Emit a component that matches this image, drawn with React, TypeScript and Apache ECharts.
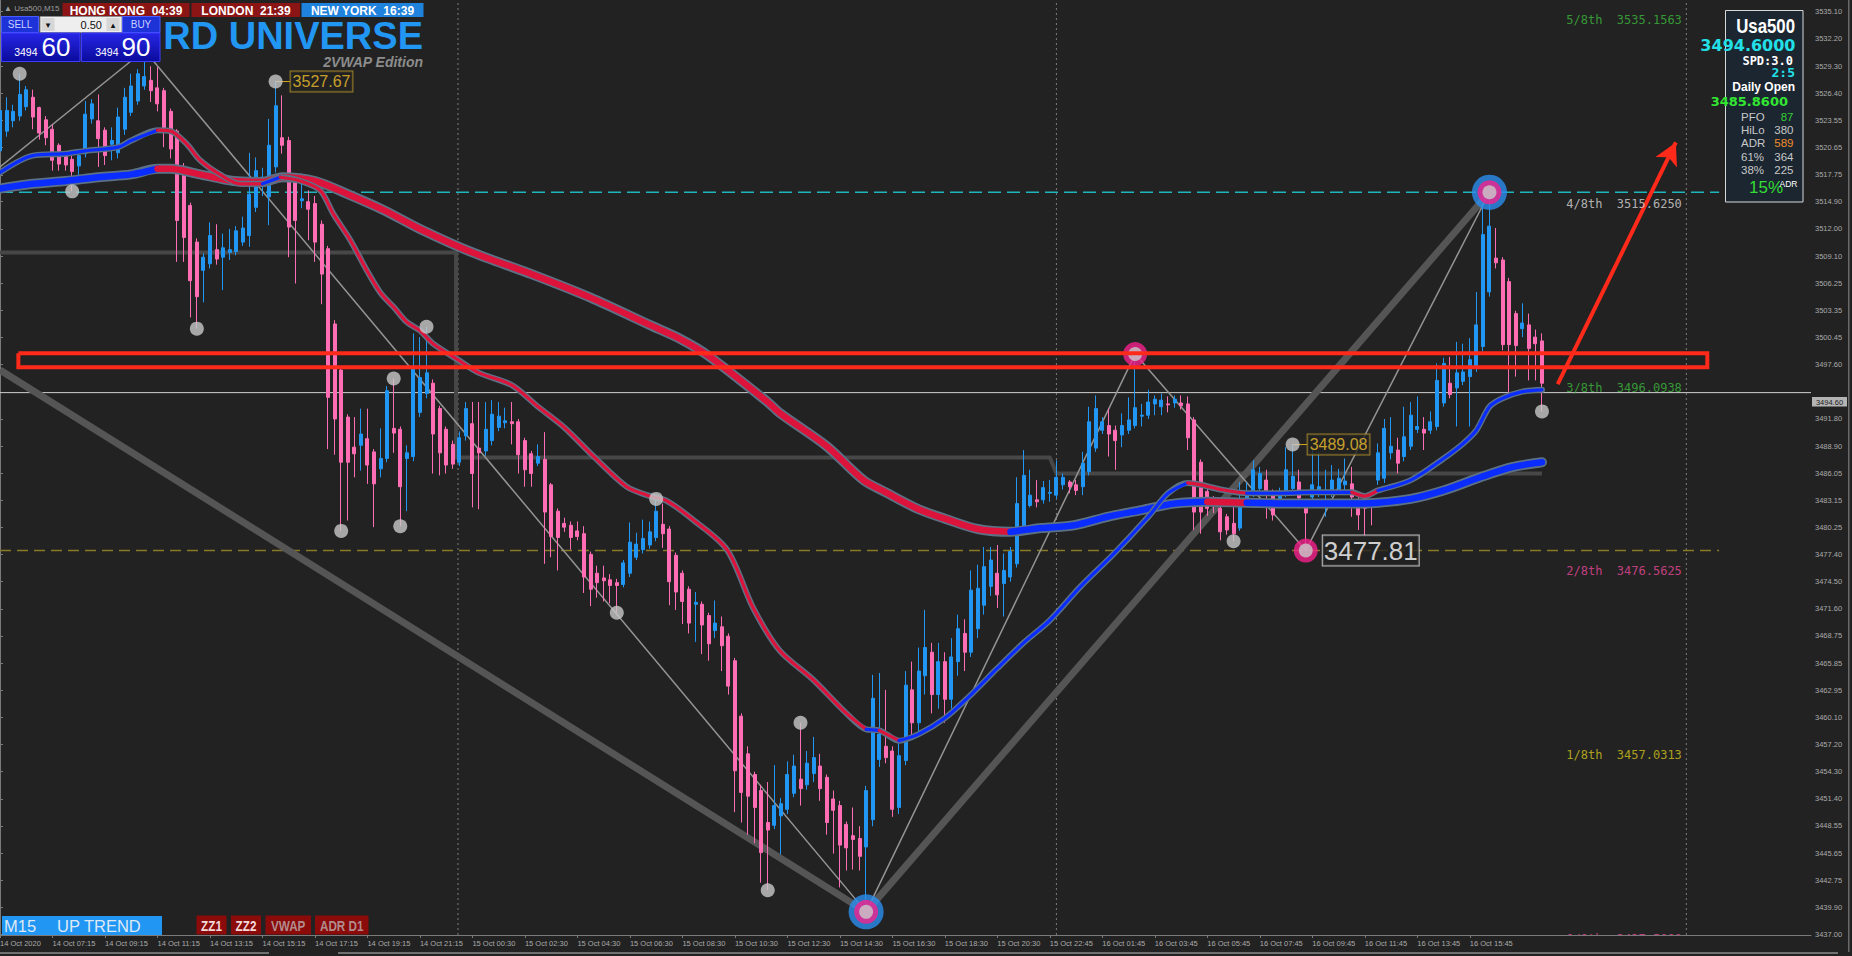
import React, { useEffect, useRef } from "react";
import * as echarts from "echarts";

// ---------------- data ----------------
const timeLabels: string[] = [
  "14 Oct 2020", "14 Oct 07:15", "14 Oct 09:15", "14 Oct 11:15", "14 Oct 13:15", "14 Oct 15:15",
  "14 Oct 17:15", "14 Oct 19:15", "14 Oct 21:15", "15 Oct 00:30", "15 Oct 02:30", "15 Oct 04:30",
  "15 Oct 06:30", "15 Oct 08:30", "15 Oct 10:30", "15 Oct 12:30", "15 Oct 14:30", "15 Oct 16:30",
  "15 Oct 18:30", "15 Oct 20:30", "15 Oct 22:45", "16 Oct 01:45", "16 Oct 03:45", "16 Oct 05:45",
  "16 Oct 07:45", "16 Oct 09:45", "16 Oct 11:45", "16 Oct 13:45", "16 Oct 15:45", "16 Oct 17:45",
];

const priceTicks: number[] = [
  3437.0, 3439.9, 3442.75, 3445.65, 3448.55, 3451.4, 3454.3, 3457.2, 3460.1, 3462.95, 3465.85,
  3468.75, 3471.6, 3474.5, 3477.4, 3480.25, 3483.15, 3486.05, 3488.9, 3491.8, 3497.6, 3500.45,
  3503.35, 3506.25, 3509.1, 3512.0, 3514.9, 3517.75, 3520.65, 3523.55, 3526.4, 3529.3, 3532.2, 3535.1,
];

// [open, close, low, high] for each M15 bar
const candles: number[][] = [
  [3520.3, 3524.6, 3519.5, 3525.5], [3522.4, 3524.6, 3521.8, 3526.0], [3523.5, 3524.5, 3522.8, 3525.2],
  [3524.0, 3526.3, 3523.5, 3528.5], [3525.0, 3526.8, 3524.6, 3527.2], [3526.0, 3523.9, 3522.6, 3526.8],
  [3524.9, 3522.2, 3521.5, 3525.0], [3523.6, 3521.7, 3520.9, 3524.0], [3522.6, 3519.3, 3518.2, 3523.1],
  [3520.9, 3518.9, 3518.2, 3521.1], [3519.8, 3518.8, 3518.2, 3520.2], [3519.4, 3518.1, 3516.0, 3519.8],
  [3518.7, 3519.8, 3517.5, 3520.2], [3520.0, 3524.2, 3519.6, 3525.6], [3523.7, 3525.3, 3523.2, 3525.8],
  [3523.5, 3521.6, 3518.6, 3526.3], [3522.5, 3519.8, 3518.8, 3522.8], [3521.0, 3521.4, 3519.3, 3522.8],
  [3520.1, 3523.9, 3519.5, 3524.9], [3522.6, 3526.0, 3522.0, 3527.0], [3524.4, 3527.2, 3524.0, 3528.5],
  [3525.6, 3528.5, 3525.2, 3529.0], [3527.2, 3528.2, 3526.8, 3531.0], [3527.8, 3526.7, 3525.5, 3529.3],
  [3527.0, 3525.3, 3524.5, 3529.2], [3526.7, 3522.4, 3520.7, 3527.0], [3524.5, 3520.5, 3519.5, 3524.8],
  [3522.4, 3512.9, 3508.5, 3522.6], [3518.6, 3511.1, 3508.5, 3519.0], [3514.5, 3506.5, 3502.6, 3514.8],
  [3510.6, 3504.8, 3501.4, 3511.0], [3507.6, 3509.0, 3504.2, 3509.4], [3508.3, 3511.3, 3507.8, 3512.7],
  [3509.8, 3508.8, 3508.2, 3512.5], [3509.0, 3510.0, 3505.5, 3511.5], [3509.5, 3509.8, 3508.7, 3512.0],
  [3509.6, 3511.8, 3509.2, 3512.3], [3510.6, 3512.1, 3510.2, 3513.3], [3511.3, 3515.7, 3510.1, 3520.1],
  [3514.3, 3518.2, 3513.8, 3519.6], [3517.0, 3517.5, 3515.5, 3518.5], [3515.4, 3520.9, 3512.4, 3523.7],
  [3518.6, 3525.1, 3518.0, 3527.67], [3521.7, 3520.9, 3520.0, 3526.2], [3521.4, 3512.2, 3509.0, 3521.8],
  [3517.5, 3512.9, 3506.2, 3517.8], [3515.0, 3515.2, 3514.2, 3517.9], [3514.9, 3514.1, 3510.8, 3516.1],
  [3514.7, 3510.6, 3508.5, 3515.5], [3512.5, 3507.2, 3504.0, 3512.9], [3509.9, 3494.1, 3488.6, 3510.2],
  [3501.9, 3491.8, 3488.0, 3502.3], [3497.0, 3487.2, 3479.9, 3497.3], [3492.0, 3487.2, 3481.0, 3492.3],
  [3488.8, 3488.1, 3485.6, 3492.0], [3489.0, 3490.2, 3486.3, 3492.9], [3489.7, 3486.9, 3484.9, 3492.9],
  [3488.3, 3484.9, 3480.3, 3488.6], [3486.5, 3487.6, 3485.6, 3490.8], [3487.6, 3494.8, 3487.2, 3495.3],
  [3490.8, 3490.3, 3488.2, 3496.1], [3490.7, 3484.6, 3480.4, 3491.0], [3487.6, 3488.2, 3482.0, 3489.0],
  [3487.8, 3497.1, 3487.3, 3500.9], [3492.5, 3496.2, 3492.0, 3500.5], [3494.5, 3496.7, 3494.0, 3501.6],
  [3495.6, 3490.2, 3486.0, 3496.0], [3492.9, 3488.2, 3485.8, 3493.2], [3490.7, 3486.9, 3486.0, 3491.0],
  [3489.1, 3487.0, 3486.5, 3489.5], [3487.2, 3489.8, 3486.8, 3490.5], [3490.0, 3492.9, 3489.5, 3493.6],
  [3491.3, 3486.0, 3482.4, 3493.6], [3488.7, 3488.2, 3482.2, 3493.6], [3488.4, 3490.7, 3487.9, 3493.6],
  [3489.5, 3492.3, 3489.0, 3493.8], [3490.9, 3492.1, 3490.5, 3493.6], [3491.4, 3491.6, 3490.8, 3493.0],
  [3491.5, 3491.3, 3489.1, 3493.6], [3491.5, 3488.0, 3486.0, 3491.8], [3489.5, 3486.4, 3484.6, 3489.8],
  [3488.1, 3486.0, 3484.6, 3488.4], [3487.1, 3487.8, 3486.8, 3489.1], [3487.5, 3481.9, 3476.4, 3490.4],
  [3484.8, 3479.3, 3477.1, 3485.0], [3482.0, 3479.2, 3475.7, 3482.3], [3480.7, 3480.3, 3479.8, 3481.3],
  [3480.5, 3479.2, 3477.9, 3480.9], [3479.9, 3479.3, 3478.9, 3480.9], [3479.6, 3475.0, 3473.3, 3480.4],
  [3477.4, 3473.7, 3471.9, 3477.7], [3475.4, 3474.4, 3472.8, 3476.2], [3474.9, 3474.6, 3472.4, 3476.2],
  [3474.7, 3474.1, 3472.2, 3475.3], [3474.4, 3474.1, 3471.2, 3474.8], [3474.2, 3476.5, 3473.9, 3476.8],
  [3475.4, 3478.7, 3475.0, 3480.8], [3477.1, 3478.5, 3476.8, 3479.7], [3477.9, 3479.1, 3477.5, 3481.1],
  [3478.4, 3479.8, 3478.0, 3480.9], [3479.2, 3482.0, 3478.8, 3483.3], [3480.6, 3479.6, 3478.1, 3482.8],
  [3480.1, 3474.5, 3472.0, 3480.4], [3477.3, 3473.4, 3471.5, 3477.6], [3475.4, 3472.4, 3470.0, 3475.7],
  [3473.7, 3470.1, 3469.0, 3474.0], [3472.1, 3472.3, 3468.1, 3473.4], [3472.1, 3469.9, 3466.8, 3472.4],
  [3470.9, 3467.9, 3466.1, 3471.2], [3469.3, 3470.1, 3468.5, 3472.5], [3469.7, 3467.7, 3465.0, 3470.8],
  [3468.7, 3463.4, 3462.5, 3469.0], [3466.1, 3454.4, 3450.0, 3466.4], [3460.2, 3452.1, 3448.9, 3460.5],
  [3456.2, 3451.7, 3447.6, 3457.0], [3454.0, 3450.5, 3446.7, 3454.3], [3452.3, 3445.7, 3442.5, 3452.9],
  [3448.9, 3448.1, 3441.7, 3453.2], [3448.6, 3450.7, 3448.2, 3455.0], [3449.6, 3450.9, 3445.5, 3451.5],
  [3450.3, 3454.0, 3449.8, 3455.4], [3452.0, 3454.9, 3451.6, 3456.1], [3453.5, 3452.5, 3450.7, 3459.5],
  [3452.9, 3455.2, 3452.4, 3456.5], [3454.1, 3455.8, 3453.2, 3458.0], [3454.9, 3452.5, 3451.2, 3456.2],
  [3453.7, 3448.9, 3447.6, 3454.0], [3451.4, 3450.2, 3445.6, 3452.3], [3450.7, 3446.5, 3442.0, 3451.2],
  [3448.7, 3446.2, 3443.8, 3449.0], [3447.5, 3447.1, 3443.9, 3450.5], [3447.2, 3445.3, 3443.8, 3448.5],
  [3446.3, 3452.3, 3439.4, 3452.8], [3449.2, 3462.1, 3448.5, 3464.6], [3455.6, 3458.3, 3454.8, 3464.8],
  [3457.0, 3455.8, 3455.2, 3463.0], [3456.5, 3450.3, 3449.5, 3457.0], [3450.5, 3456.0, 3449.8, 3457.5],
  [3455.5, 3463.5, 3455.0, 3465.0], [3463.0, 3459.5, 3458.0, 3466.0], [3459.5, 3465.0, 3458.5, 3467.5],
  [3464.5, 3467.5, 3462.5, 3471.5], [3467.0, 3462.5, 3460.5, 3468.0], [3462.5, 3466.0, 3461.0, 3468.0],
  [3466.0, 3462.0, 3459.5, 3467.0], [3462.0, 3466.5, 3461.0, 3468.5], [3466.0, 3469.5, 3464.5, 3471.0],
  [3469.0, 3467.0, 3465.0, 3470.5], [3467.0, 3473.6, 3466.5, 3475.7], [3469.5, 3473.8, 3468.5, 3476.3],
  [3472.0, 3476.1, 3471.0, 3478.2], [3474.0, 3476.8, 3473.0, 3478.2], [3475.4, 3473.1, 3471.7, 3478.4],
  [3474.3, 3475.7, 3470.8, 3477.5], [3475.0, 3477.7, 3474.5, 3478.2], [3476.4, 3482.8, 3476.0, 3485.6],
  [3480.0, 3485.8, 3479.5, 3488.5], [3482.6, 3483.7, 3482.4, 3486.4], [3483.2, 3483.0, 3482.4, 3485.3],
  [3483.2, 3484.5, 3482.8, 3485.2], [3483.9, 3484.0, 3483.0, 3485.3], [3483.7, 3485.6, 3483.3, 3487.4],
  [3484.8, 3485.6, 3484.3, 3486.0], [3485.1, 3484.6, 3483.9, 3485.3], [3484.8, 3484.2, 3483.7, 3485.3],
  [3484.6, 3487.1, 3483.7, 3488.3], [3486.2, 3491.5, 3485.8, 3493.1], [3488.7, 3492.9, 3488.3, 3494.3],
  [3490.6, 3491.5, 3490.2, 3492.0], [3491.1, 3490.2, 3487.8, 3492.9], [3490.6, 3489.5, 3486.4, 3491.1],
  [3490.1, 3491.1, 3488.8, 3492.4], [3490.6, 3491.7, 3490.2, 3494.1], [3491.1, 3493.0, 3490.8, 3498.7],
  [3492.1, 3492.2, 3491.0, 3493.4], [3492.2, 3493.6, 3491.8, 3494.9], [3493.4, 3493.9, 3492.2, 3494.3],
  [3493.1, 3493.8, 3492.2, 3494.5], [3493.4, 3493.3, 3492.5, 3494.2], [3493.5, 3493.9, 3493.0, 3494.3],
  [3493.5, 3493.2, 3492.8, 3494.3], [3493.4, 3489.8, 3488.5, 3494.2], [3491.7, 3481.9, 3480.0, 3492.0],
  [3487.2, 3481.9, 3479.6, 3487.5], [3484.1, 3482.3, 3481.5, 3484.4], [3483.2, 3482.6, 3481.8, 3483.6],
  [3482.3, 3479.8, 3478.9, 3482.6], [3481.4, 3480.0, 3479.5, 3481.7], [3480.7, 3479.6, 3478.8, 3483.2],
  [3480.2, 3483.0, 3479.9, 3485.1], [3483.1, 3483.9, 3482.6, 3485.1], [3483.9, 3486.4, 3483.5, 3487.4],
  [3484.4, 3486.0, 3484.0, 3486.7], [3485.3, 3484.2, 3481.2, 3486.4], [3484.0, 3481.6, 3481.0, 3484.3],
  [3483.2, 3484.0, 3482.8, 3484.5], [3483.9, 3486.4, 3483.5, 3488.8], [3484.4, 3485.7, 3484.0, 3489.08],
  [3485.1, 3483.4, 3482.3, 3486.4], [3482.5, 3481.8, 3477.81, 3483.0], [3483.5, 3484.8, 3483.0, 3488.5],
  [3484.1, 3484.6, 3483.5, 3488.3], [3483.9, 3484.1, 3481.4, 3486.4], [3483.9, 3485.3, 3483.5, 3486.9],
  [3484.3, 3485.5, 3483.9, 3486.5], [3484.8, 3485.2, 3483.7, 3487.6], [3484.9, 3483.5, 3481.4, 3486.7],
  [3482.5, 3481.6, 3480.0, 3483.5], [3483.4, 3482.3, 3479.3, 3483.5], [3482.9, 3482.6, 3480.5, 3483.2],
  [3485.3, 3488.2, 3484.8, 3489.2], [3485.5, 3490.8, 3485.0, 3491.8], [3488.2, 3488.9, 3487.5, 3492.0],
  [3488.5, 3487.1, 3486.0, 3489.8], [3487.8, 3489.9, 3487.3, 3493.1], [3488.9, 3492.2, 3488.5, 3493.6],
  [3490.7, 3491.0, 3490.3, 3494.2], [3490.7, 3490.3, 3488.5, 3492.0], [3490.6, 3491.5, 3490.2, 3492.6],
  [3491.0, 3495.9, 3490.6, 3497.7], [3493.5, 3497.7, 3493.1, 3498.3], [3495.6, 3494.4, 3494.0, 3498.4],
  [3495.1, 3496.7, 3491.0, 3500.0], [3495.8, 3496.8, 3495.4, 3499.8], [3496.3, 3498.1, 3491.0, 3500.4],
  [3497.2, 3501.8, 3496.8, 3505.3], [3499.5, 3511.4, 3499.0, 3514.3], [3505.3, 3512.3, 3504.8, 3515.9],
  [3508.9, 3508.4, 3507.8, 3512.1], [3508.7, 3499.7, 3499.1, 3509.0], [3506.4, 3499.7, 3494.0, 3506.8],
  [3503.0, 3499.6, 3496.3, 3503.3], [3501.4, 3502.0, 3500.5, 3504.1], [3501.8, 3499.3, 3495.9, 3503.0],
  [3500.5, 3499.8, 3495.9, 3501.3], [3500.1, 3495.6, 3492.6, 3500.9],
];

// moving averages: [bar, value]
const fastMA: number[][] = [
  [0, 3518.0], [5, 3519.8], [10, 3520.0], [13, 3520.3], [18, 3520.7], [20, 3521.4], [24, 3522.5],
  [26, 3522.4], [28.5, 3521.0], [30.5, 3519.3], [33.5, 3517.8], [36.6, 3516.8], [40, 3516.8],
  [42.7, 3517.5], [45.8, 3517.1], [48.8, 3516.1], [50.8, 3513.6], [53.4, 3510.8], [55.9, 3507.6],
  [58, 3505.2], [60, 3503.7], [62, 3502.1], [64, 3501.2], [66, 3499.8], [70, 3498.0], [73, 3496.7],
  [78, 3495.4], [82, 3493.1], [86, 3490.9], [90.5, 3487.8], [95.5, 3484.6], [98.6, 3483.7],
  [101.6, 3483.1], [105.6, 3481.1], [110.8, 3477.9], [114.8, 3471.7], [118.8, 3467.2], [123.9, 3464.1],
  [129, 3460.5], [132, 3458.8], [134, 3458.7], [137, 3457.6], [140, 3458.3], [144, 3460.0],
  [148, 3462.5], [152, 3465.3], [156, 3468.0], [160, 3470.4], [164.7, 3474.0], [169.8, 3477.5],
  [175, 3481.4], [178, 3483.9], [181, 3485.0], [183, 3484.8], [186, 3484.3], [190, 3483.9],
  [195, 3483.9], [200, 3484.0], [206, 3484.0], [208, 3483.6], [210, 3484.2], [215, 3485.3],
  [220, 3487.6], [223, 3489.2], [225, 3490.6], [227, 3493.1], [229, 3494.0], [232, 3494.7], [235, 3494.9],
];
const slowMA: number[][] = [
  [0, 3516.3], [5, 3516.8], [10, 3517.1], [15, 3517.5], [20, 3517.8], [24, 3518.4], [26, 3518.4],
  [30.5, 3517.8], [35.6, 3517.1], [40, 3517.0], [43, 3517.5], [48, 3517.1], [53, 3515.7],
  [58.5, 3514.0], [64, 3512.0], [72, 3509.5], [81, 3507.2], [90, 3504.7], [99, 3501.8],
  [103.7, 3500.3], [108, 3498.5], [117, 3493.6], [118.9, 3492.4], [126, 3488.9], [131.6, 3485.3],
  [135, 3484.0], [140, 3482.2], [144, 3481.2], [149, 3480.1], [154, 3479.8], [158.7, 3480.2],
  [163.7, 3480.5], [168.8, 3481.4], [173.9, 3482.1], [178.9, 3482.8], [184, 3483.0], [190, 3482.9],
  [198, 3482.8], [205, 3482.8], [210, 3482.9], [215, 3483.3], [220, 3484.2], [225.6, 3485.6],
  [230.6, 3486.7], [235, 3487.2],
];
// rising / falling stretches of each average: [fromBar, toBar, trend]
const fastTrend: [number, number, string][] = [
  [0, 24, "up"], [24, 40, "down"], [40, 42.7, "up"], [42.7, 132, "down"], [132, 134, "up"],
  [134, 137, "down"], [137, 181, "up"], [181, 190, "down"], [190, 206, "up"], [206, 210, "down"], [210, 235, "up"],
];
const slowTrend: [number, number, string][] = [
  [0, 24, "up"], [24, 154, "down"], [154, 184, "up"], [184, 190, "down"], [190, 235, "up"],
];

const zigzagMinor: number[][] = [[0, 3518.6], [22, 3531.0], [132, 3439.4], [173, 3498.7], [199, 3477.81], [227, 3515.9]];
const zigzagMajor: number[][] = [[0, 3497.0], [132, 3439.4], [227, 3515.9]];
const vwapSteps: number[][] = [[0, 3509.5], [69.5, 3509.5], [69.5, 3487.7], [160, 3487.7], [161, 3486.0], [235, 3486.0]];
const swingPoints: number[][] = [
  [3, 3528.5], [11, 3516.0], [30, 3501.4], [42, 3527.67], [52, 3479.9], [60, 3496.1], [61, 3480.4],
  [65, 3501.6], [94, 3471.2], [100, 3483.3], [117, 3441.7], [122, 3459.5], [188, 3478.8], [197, 3489.08], [235, 3492.6],
];
const majorPivots: number[][] = [[132, 3439.4], [227, 3515.9]];
const minorPivots: number[][] = [[173, 3498.7], [199, 3477.81]];
const priceTags: number[][] = [[42, 3527.67], [197, 3489.08]];
const lowTag: number[] = [199, 3477.81];
const murreyNames: string[] = ["5/8th", "4/8th", "3/8th", "2/8th", "1/8th", "0/8th"];
const murreyLevels: number[] = [3535.1563, 3515.625, 3496.0938, 3476.5625, 3457.0313, 3437.5];
const daySeparators: number[] = [69.8, 161.0, 257.0];
const lastPrice = 3494.6;
const highLevel = 3515.9;
const lowLevel = 3477.81;
const zoneBox: number[][] = [[2.8, 3498.78], [260.2, 3497.29]];
const arrowPath: number[][] = [[237.4, 3495.5], [255.4, 3521.2]];
const sessions: string[] = ["HONG KONG  04:39", "LONDON  21:39", "NEW YORK  16:39"];
const infoLabels: string[] = ["PFO", "HiLo", "ADR", "61%", "38%"];
const infoValues: string[] = ["87", "380", "589", "364", "225"];

// ---------------- styling ----------------
const BG = "#222222";
const UP = "#2196f3";
const DOWN = "#ff6eb4";
const MA_UP = "#0a2cff";
const MA_DOWN = "#dc143c";
const OUTLINE = "#5c7185";
const SLOTS = 276;
const Y_MIN = 3436.94;
const Y_MAX = 3536.34;
const murreyColors = ["#3cb83c", "#d8d8d8", "#3cb83c", "#e8489a", "#d4c21c", "#e8489a"];
const infoColors = ["#33cc33", "#c8c8c8", "#f08c28", "#c8c8c8", "#c8c8c8"];

const SANS = '"Liberation Sans", "DejaVu Sans", sans-serif';
const MONO = '"DejaVu Sans Mono", "Liberation Mono", monospace';

function rect(x: number, y: number, w: number, h: number, fill: any, stroke?: string, z = 100) {
  return {
    type: "rect", silent: true, z,
    shape: { x, y, width: w, height: h },
    style: { fill, stroke: stroke || null, lineWidth: stroke ? 1 : 0 },
  };
}
function txt(x: number, y: number, text: string, font: string, fill: string, align = "left", z = 101, scaleX = 1) {
  return {
    type: "text", silent: true, z, x, y, scaleX,
    style: {
      text, font, fill, x: 0, y: 0,
      align, textAlign: align, verticalAlign: "middle", textVerticalAlign: "middle",
    },
  };
}

function lineSeries(data: any[], color: string, width: number, z: number, extra: any = {}) {
  return {
    type: "line", xAxisIndex: 1, yAxisIndex: 0, data, showSymbol: false, symbol: "none",
    silent: true, z, clip: true,
    lineStyle: { color, width, cap: "round", join: "round", ...(extra.lineStyle || {}) },
    smooth: extra.smooth || false,
  };
}

function maSeries(points: number[][], trend: [number, number, string][], core: number, outline: number, z: number) {
  const out: any[] = [lineSeries(points, OUTLINE, outline, z, { smooth: 0.3 })];
  trend.forEach(([a, b, dir]) => {
    const seg = points.filter((p) => p[0] >= a && p[0] <= b);
    out.push(lineSeries(seg, dir === "up" ? MA_UP : MA_DOWN, core, z + 0.1, { smooth: 0.3 }));
  });
  return out;
}

function buildOption() {
  const categories = Array.from({ length: SLOTS + 1 }, (_, i) => String(i));
  const showTick = (i: number) => i % 8 === 0 && i / 8 < timeLabels.length;

  const series: any[] = [];
  daySeparators.forEach((x) =>
    series.push(lineSeries([[x, Y_MIN], [x, Y_MAX]], "#7c7c7c", 1, 1, { lineStyle: { type: [2, 3], cap: "butt" } }))
  );
  series.push(lineSeries([[0, lastPrice], [SLOTS, lastPrice]], "#cfcfcf", 1, 1, { lineStyle: { cap: "butt" } }));
  series.push(lineSeries([[0, highLevel], [262, highLevel]], "#1fb5bd", 1.5, 1, { lineStyle: { type: [13, 6], cap: "butt" } }));
  series.push(lineSeries([[0, lowLevel], [262, lowLevel]], "#8a7a26", 1.5, 1, { lineStyle: { type: [11, 6], cap: "butt" } }));
  series.push(lineSeries(vwapSteps, "#474747", 4, 1.2, { lineStyle: { cap: "butt", join: "miter" } }));
  series.push(lineSeries(zigzagMajor, "#555555", 7, 1.4, { lineStyle: { cap: "butt" } }));
  series.push(lineSeries(zigzagMinor, "#949494", 1.5, 1.5));

  series.push({
    type: "candlestick", xAxisIndex: 0, yAxisIndex: 0, data: candles, barWidth: 3.5, z: 2, silent: true,
    itemStyle: { color: UP, color0: DOWN, borderColor: UP, borderColor0: DOWN, borderWidth: 1 },
  });

  series.push(...maSeries(slowMA, slowTrend, 6.5, 10, 3));
  series.push(...maSeries(fastMA, fastTrend, 3.2, 6, 3.5));

  series.push({
    type: "scatter", xAxisIndex: 1, data: swingPoints, symbolSize: 14, z: 5, silent: true,
    itemStyle: { color: "#c9c9c9" },
  });
  series.push({ type: "scatter", xAxisIndex: 1, data: majorPivots, symbolSize: 35, z: 5.1, silent: true, itemStyle: { color: "#2a8ef0" } });
  series.push({ type: "scatter", xAxisIndex: 1, data: [...majorPivots, ...minorPivots], symbolSize: 24, z: 5.2, silent: true, itemStyle: { color: "#f5228c" } });
  series.push({ type: "scatter", xAxisIndex: 1, data: [...majorPivots, ...minorPivots], symbolSize: 14, z: 5.3, silent: true, itemStyle: { color: "#c9c9c9" } });

  priceTags.forEach(([bar, v]) =>
    series.push(lineSeries([[bar, v], [bar + 2.3, v]], "#d4a820", 1, 4.9, { lineStyle: { cap: "butt" } }))
  );
  series.push({
    type: "scatter", xAxisIndex: 1, symbolSize: 0, z: 7, silent: true,
    data: priceTags.map(([bar, v]) => ({ value: [bar, v], label: { formatter: v.toFixed(2) } })),
    label: {
      show: true, position: "right", distance: 15, color: "#f2c12e", fontSize: 16, fontFamily: SANS,
      backgroundColor: BG, borderColor: "#b8962a", borderWidth: 1, padding: [2, 2, 0, 2], lineHeight: 18,
    },
  });
  series.push({
    type: "scatter", xAxisIndex: 1, symbolSize: 0, z: 7, silent: true,
    data: [{ value: lowTag, label: { formatter: lowTag[1].toFixed(2) } }],
    label: {
      show: true, position: "right", distance: 17, color: "#ffffff", fontSize: 26, fontFamily: SANS,
      backgroundColor: BG, borderColor: "#e6e6e6", borderWidth: 1, padding: [2, 1, 0, 1], lineHeight: 28,
    },
  });

  series.push({
    type: "scatter", xAxisIndex: 1, symbolSize: 0, z: 6, silent: true,
    data: murreyLevels.map((lv, i) => ({
      value: [238.7, lv],
      label: { formatter: `${murreyNames[i]}  ${lv.toFixed(4)}`, color: murreyColors[i] },
    })),
    label: { show: true, position: [0, 3], align: "left", verticalAlign: "top", fontSize: 12, fontFamily: MONO },
  });

  const [[x0, top], [x1, bot]] = zoneBox;
  series.push(lineSeries([[x0, top], [x1, top], [x1, bot], [x0, bot], [x0, top]], "#ff2a1a", 4, 8, { lineStyle: { cap: "butt", join: "miter" } }));
  series.push({
    type: "line", xAxisIndex: 1, data: [], silent: true, z: 8,
    markLine: {
      silent: true, symbol: ["none", "arrow"], symbolSize: [18, 22], animation: false,
      label: { show: false },
      lineStyle: { color: "#ff2a1a", width: 4, type: "solid" },
      data: [[{ coord: arrowPath[0] }, { coord: arrowPath[1] }]],
    },
  });

  const panelGrad = { type: "linear", x: 0, y: 0, x2: 0, y2: 1, colorStops: [{ offset: 0, color: "#2626e6" }, { offset: 1, color: "#0b0b9c" }] };

  const graphic: any[] = [
    rect(0, 936, 1811, 20, BG, undefined, 40),
    rect(1848, 0, 1.5, 952, "#686868", undefined, 41),
    rect(0, 952.5, 269, 1, "#bdbdbd", undefined, 41),
    rect(338, 952.5, 1500, 1, "#bdbdbd", undefined, 41),
    txt(4, 8, "▲ Usa500,M15", `8px ${SANS}`, "#9c9c9c"),
    rect(62.5, 3, 127, 14, "#8b1414"),
    txt(126, 10.5, sessions[0], `bold 12px ${SANS}`, "#ffffff", "center"),
    rect(191.5, 3, 108.5, 14, "#8b1414"),
    txt(246, 10.5, sessions[1], `bold 12px ${SANS}`, "#ffffff", "center"),
    rect(301.5, 3, 122, 14, "#1f82dc"),
    txt(362.5, 10.5, sessions[2], `bold 12px ${SANS}`, "#ffffff", "center"),
    txt(423, 35.5, "RD UNIVERSE", `bold 38px ${SANS}`, "#2196f3", "right"),
    txt(423, 62, "2VWAP Edition", `italic bold 14px ${SANS}`, "#8c8c8c", "right"),
    rect(1.5, 16.5, 37, 16, "#1d33d8", "#4a5cff"),
    txt(20, 24.5, "SELL", `10px ${SANS}`, "#c8d0ff", "center"),
    rect(40, 16.5, 82, 16, "#eeeeee", "#8a8a8a"),
    rect(41.5, 18, 13, 13, "#d6d6d6"),
    txt(48, 24.5, "▾", `9px ${SANS}`, "#111111", "center"),
    rect(106.5, 18, 13, 13, "#d6d6d6"),
    txt(113, 24.5, "▴", `9px ${SANS}`, "#111111", "center"),
    txt(102, 24.5, "0.50", `11px ${SANS}`, "#111111", "right"),
    rect(122.5, 16.5, 37.5, 16, "#1d33d8", "#4a5cff"),
    txt(141, 24.5, "BUY", `10px ${SANS}`, "#c8d0ff", "center"),
    rect(1.5, 33, 78.5, 28.5, panelGrad, "#3d3dff"),
    rect(81.5, 33, 78.5, 28.5, panelGrad, "#3d3dff"),
    txt(37.5, 52, "3494", `10.5px ${SANS}`, "#ffffff", "right"),
    txt(41.5, 47, "60", `26px ${SANS}`, "#ffffff", "left"),
    txt(118.5, 52, "3494", `10.5px ${SANS}`, "#ffffff", "right"),
    txt(121.5, 47, "90", `26px ${SANS}`, "#ffffff", "left"),
    rect(1725.5, 10.5, 77.5, 191.5, "#1b2631", "#d8d8d8"),
    txt(1795, 25.5, "Usa500", `bold 21px ${SANS}`, "#ffffff", "right", 101, 0.8),
    txt(1795.5, 45.5, "3494.6000", `bold 16px "DejaVu Sans", sans-serif`, "#22e0e8", "right"),
    txt(1793, 60.5, "SPD:3.0", `bold 12px ${MONO}`, "#ffffff", "right"),
    txt(1795, 72, "2:5", `bold 13px ${MONO}`, "#22e0e8", "right"),
    txt(1795, 86.5, "Daily Open", `bold 12px ${SANS}`, "#ffffff", "right"),
    txt(1788, 101, "3485.8600", `bold 13px "DejaVu Sans", sans-serif`, "#33e633", "right"),
    ...infoLabels.map((l, i) => txt(1741, 116.7 + i * 13.3, l, `11.5px ${SANS}`, "#c8c8c8", "left")),
    ...infoValues.map((v, i) => txt(1793.5, 116.7 + i * 13.3, v, `11.5px ${SANS}`, infoColors[i], "right")),
    txt(1766, 187, "15%", `17px ${SANS}`, "#33dd33", "center"),
    txt(1788.5, 183.5, "ADR", `8.5px ${SANS}`, "#ffffff", "center"),
    rect(1812, 397, 35, 9.5, "#b4b4b4", undefined, 60),
    txt(1829.5, 402, "3494.60", `7.5px ${SANS}`, "#202020", "center", 61),
    rect(2, 916, 160, 19, "#2196f3"),
    txt(4, 926, "M15", `16.5px ${SANS}`, "#dfe9f5", "left"),
    txt(57, 926, "UP TREND", `16.5px ${SANS}`, "#dfe9f5", "left"),
    rect(196.5, 915.5, 30, 19, "#8b0a0a"),
    txt(211.5, 925.5, "ZZ1", `bold 15px ${SANS}`, "#f2dada", "center", 101, 0.78),
    rect(231, 915.5, 30, 19, "#8b0a0a"),
    txt(246, 925.5, "ZZ2", `bold 15px ${SANS}`, "#f2dada", "center", 101, 0.78),
    rect(265.5, 915.5, 45.5, 19, "#8b0a0a"),
    txt(288.2, 925.5, "VWAP", `bold 15px ${SANS}`, "#b08c8c", "center", 101, 0.78),
    rect(315, 915.5, 53.5, 19, "#8b0a0a"),
    txt(341.7, 925.5, "ADR D1", `bold 15px ${SANS}`, "#b08c8c", "center", 101, 0.78),
  ];

  return {
    animation: false,
    backgroundColor: BG,
    textStyle: { fontFamily: SANS },
    grid: { left: 0, right: 41, top: 0, bottom: 21, containLabel: false, outerBoundsMode: "none" },
    xAxis: [
      {
        type: "category", data: categories, boundaryGap: false, z: 50,
        axisLine: { show: true, lineStyle: { color: "#7a7a7a", width: 1 } },
        axisTick: { show: true, interval: showTick, length: 3, lineStyle: { color: "#7a7a7a" } },
        axisLabel: {
          show: true, interval: showTick, color: "#aaaaaa", fontSize: 7.5, fontFamily: SANS,
          align: "left", margin: 4, showMinLabel: true, showMaxLabel: false,
          formatter: (_v: string, i: number) => timeLabels[i / 8] || "",
        },
        splitLine: { show: false },
      },
      { type: "value", min: 0, max: SLOTS, show: false },
    ],
    yAxis: {
      type: "value", position: "right", min: Y_MIN, max: Y_MAX, scale: true,
      axisLine: { show: true, lineStyle: { color: "#7a7a7a", width: 1 } },
      axisTick: { show: true, length: 3, customValues: priceTicks, lineStyle: { color: "#7a7a7a" } },
      axisLabel: {
        show: true, customValues: priceTicks, color: "#aaaaaa", fontSize: 7.5, fontFamily: SANS, margin: 4,
        formatter: (v: number) => v.toFixed(2),
      },
      splitLine: { show: false },
    },
    series,
    graphic: { elements: graphic },
  };
}

export default function App() {
  const ref = useRef<HTMLDivElement>(null);
  useEffect(() => {
    document.body.style.margin = "0";
    document.body.style.background = BG;
    const chart = echarts.init(ref.current!, undefined, { renderer: "svg" });
    chart.setOption(buildOption() as any);
    return () => chart.dispose();
  }, []);
  return <div ref={ref} style={{ width: 1852, height: 956 }} />;
}
